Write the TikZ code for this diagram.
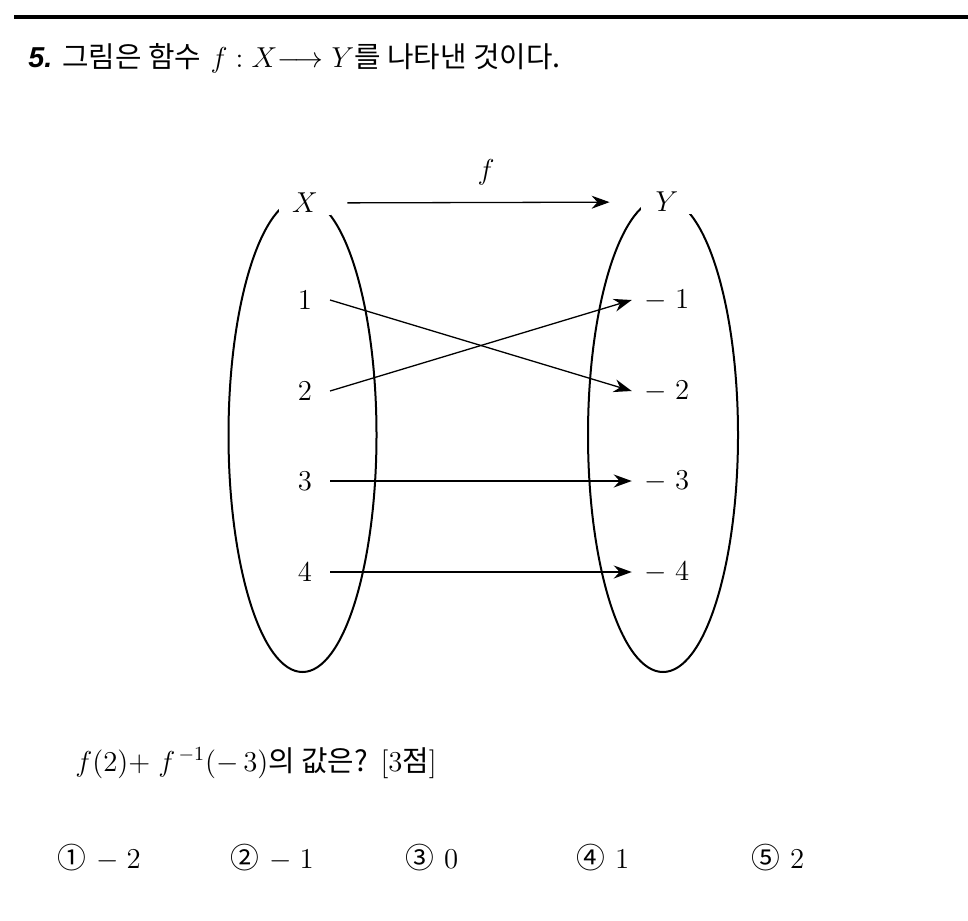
\documentclass[tikz,border=0pt]{standalone}
\usepackage{amsmath}
\usepackage{fontspec}
\usetikzlibrary{arrows.meta,positioning}
\newfontfamily\kr{Noto Sans CJK KR}
\newfontfamily\numfont{Liberation Sans}

\tikzset{
  dom/.style={inner xsep=8.8pt, inner ysep=2pt},
  cod/.style={inner xsep=6.3pt, inner ysep=2pt},
  setlabel/.style={fill=white, minimum width=26pt, inner ysep=1pt},
  maparrow/.style={-{Stealth[length=9pt,width=6.5pt]}, line width=0.65pt},
  plain/.style={anchor=west, inner sep=0pt}
}

\begin{document}
\begin{tikzpicture}[x=0.5pt, y=-0.5pt, font=\fontsize{14.4}{17}\selectfont]
	  \useasboundingbox (0,0) rectangle (968,920);
	  \draw[line width=2pt] (14,17) -- (968,17);
	  \node[plain] (title) at (28,58) {{\numfont\bfseries\itshape 5.}\hspace{5pt}{\kr 그림은 함수} $f:X{\longrightarrow}\;Y${\kr 를 나타낸 것이다.}};
	  % the two sets
	  \draw[line width=1pt] (302.5,435) ellipse [x radius=37pt, y radius=118.5pt];
	  \draw[line width=1pt] (663,435) ellipse [x radius=37.5pt, y radius=118.5pt];
	  \node[setlabel] (X) at (305,203) {$X$};
	  \node[setlabel] (Y) at (667,202) {$Y$};
	  \draw[maparrow, shorten <=8pt, shorten >=15.5pt] (X) -- (Y) node[midway, above=5pt] (f) {$f$};
	  \foreach \i/\y in {1/300,2/391,3/481,4/572}
	    {
	    \node[dom] (a\i) at (305,\y) {$\i$};
	    \node[cod] (b\i) at (667,\y) {$-\mkern5mu\i$};
	    }
	  \draw[maparrow] (a1.east) -- (b2.west);
	  \draw[maparrow] (a2.east) -- (b1.west);
	  \draw[maparrow] (a3) -- (b3);
	  \draw[maparrow] (a4) -- (b4);
	  % question and choices
	  \node[plain] (question) at (75,763) {$f(2){+}\;f^{\,-1}(-\,3)${\kr 의 값은?} [3{\kr 점}]};
	  \foreach \c/\x/\v [count=\k] in {①/57/{-\mkern5mu 2},②/230/{-\mkern5mu 1},③/405/0,④/576/1,⑤/751/2}
	    \node[plain] (choice\k) at (\x,858) {{\kr \c}\hspace{5pt}$\v$};
	\end{tikzpicture}
\end{document}
